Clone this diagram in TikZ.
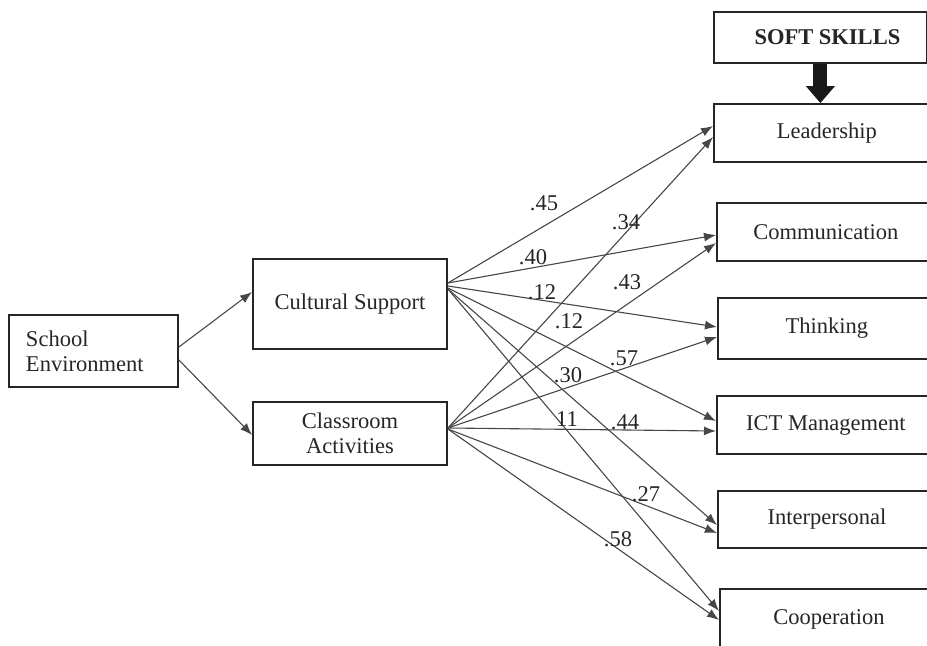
\documentclass[tikz,border=0pt]{standalone}
\usepackage{fontspec}
\setmainfont{Liberation Serif}
\usetikzlibrary{arrows.meta,calc}
\begin{document}
\begin{tikzpicture}[x=1bp,y=-1bp,
  box/.style={draw=black!85, line width=1.8bp, inner sep=0pt, font=\fontsize{22.6}{25}\selectfont, text=black!85},
  rbox/.style={box, minimum width=218bp, minimum height=58bp, anchor=west},
  conn/.style={draw=black!72, line width=1.1bp, -{Latex[length=12bp,width=9bp]}},
  lbl/.style={font=\fontsize{22.6}{27}\selectfont, inner sep=0pt, text=black!85},
]
\clip (0,0) rectangle (927,646);
\fill[white] (0,0) rectangle (927,646);
% left nodes
\node[box, minimum width=169bp, minimum height=72bp, text width=135bp, align=left] (se) at (93.5,351) {School\\Environment};
\node[box, minimum width=194bp, minimum height=90bp] (cs) at (350,304) {Cultural Support};
\node[box, minimum width=194bp, minimum height=63bp, align=center] (ca) at (350,433.5) {Classroom\\Activities};
% right nodes
\node[box, minimum width=213bp, minimum height=51bp, anchor=west] (soft) at (713,37.5) {\hspace*{14bp}\textbf{SOFT SKILLS}};
\node[rbox, minimum width=226bp] (lead) at (713,133) {Leadership};
\node[rbox] (comm) at (716,232) {Communication};
\node[rbox, minimum height=61bp] (think) at (717,328.5) {Thinking};
\node[rbox] (ict) at (716,425) {ICT Management};
\node[rbox, minimum height=57bp] (inter) at (717,519.5) {Interpersonal};
\node[rbox, minimum height=60bp] (coop) at (719,619) {Cooperation};
% thick arrow
\draw[line width=14bp, black!90, -{Triangle[length=17bp 0 0,width=28bp 0 0]}] (soft.south) -- (soft.south |- lead.north);
% school environment
\draw[conn] ([yshift=4bp]se.east) -- ([yshift=12bp]cs.west);
\draw[conn] ([yshift=-9bp]se.east) -- ([yshift=-1.5bp]ca.west);
% cultural support
\draw[conn] ([yshift=21bp]cs.east) -- ([yshift=7bp]lead.west);
\draw[conn] ([yshift=21bp]cs.east) -- ([yshift=-3bp]comm.west);
\draw[conn] ([yshift=18bp]cs.east) -- ([yshift=1.5bp]think.west);
\draw[conn] ([yshift=16bp]cs.east) -- ([yshift=4bp]ict.west);
\draw[conn] ([yshift=15bp]cs.east) -- ([yshift=-5.5bp]inter.west);
\draw[conn] ([yshift=15bp]cs.east) -- ([yshift=8bp]coop.west);
% classroom activities
\draw[conn] ([yshift=5.5bp]ca.east) -- ([yshift=-4bp]lead.west);
\draw[conn] ([yshift=5.5bp]ca.east) -- ([yshift=-11bp]comm.west);
\draw[conn] ([yshift=5.5bp]ca.east) -- ([yshift=-8.5bp]think.west);
\draw[conn] ([yshift=5.5bp]ca.east) -- ([yshift=-6bp]ict.west);
\draw[conn] ([yshift=4.5bp]ca.east) -- ([yshift=-13.5bp]inter.west);
\draw[conn] ([yshift=4.5bp]ca.east) -- ([yshift=-1bp]coop.west);
% labels
\node[lbl] (l1) at (544,203) {.45};
\node[lbl] (l2) at (626,222) {.34};
\node[lbl] (l3) at (533,257) {.40};
\node[lbl] (l4) at (627,282) {.43};
\node[lbl] (l5) at (542,292) {.12};
\node[lbl] (l6) at (569,321) {.12};
\node[lbl] (l7) at (624,358) {.57};
\node[lbl] (l8) at (568,375) {.30};
\node[lbl] (l9) at (567,419) {11};
\node[lbl] (l10) at (625,422) {.44};
\node[lbl] (l11) at (646,494) {.27};
\node[lbl] (l12) at (618,539) {.58};
\end{tikzpicture}
\end{document}
